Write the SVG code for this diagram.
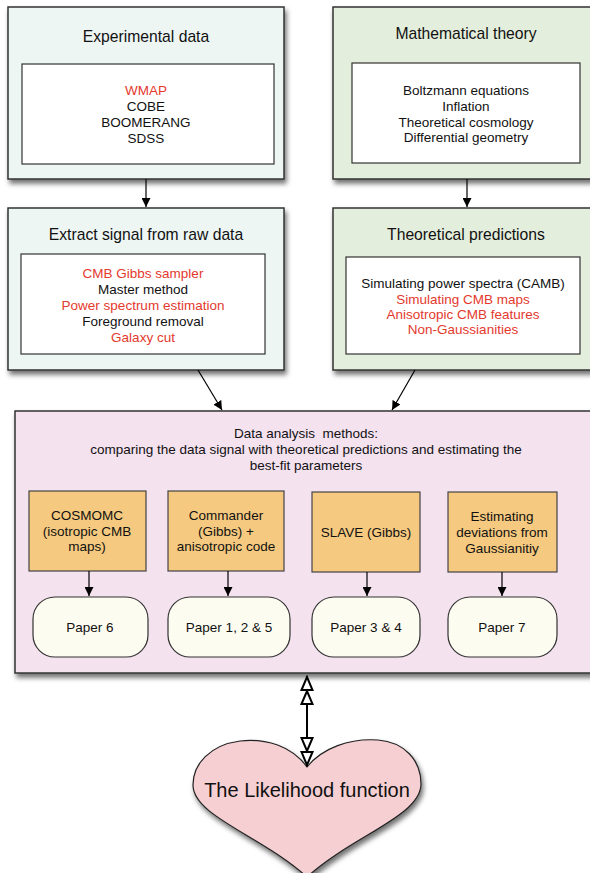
<svg xmlns="http://www.w3.org/2000/svg" width="590" height="873" viewBox="0 0 590 873">
<defs>
<filter id="sh" x="-10%" y="-10%" width="130%" height="130%">
<feDropShadow dx="2" dy="4" stdDeviation="2.5" flood-color="#000" flood-opacity="0.55"/>
</filter>
<marker id="ah" viewBox="0 0 10 10" refX="10" refY="5" markerWidth="9" markerHeight="9" markerUnits="userSpaceOnUse" orient="auto">
<path d="M0,0 L10,5 L0,10 Z" fill="#000"/>
</marker>
<marker id="dh" viewBox="0 0 30 14" refX="29" refY="7" markerWidth="30" markerHeight="14" markerUnits="userSpaceOnUse" orient="auto-start-reverse">
<path d="M1,1.5 L14,7 L1,12.5 Z M15,1.5 L28,7 L15,12.5 Z" fill="#fff" stroke="#000" stroke-width="2" stroke-linejoin="miter"/>
</marker>
</defs>
<style>
text{font-family:"Liberation Sans",Arial,sans-serif;fill:#111;text-anchor:middle}
.t{font-size:15.7px}
.b{font-size:13.5px}
.r{fill:#e4392d}
.box{stroke:#333;stroke-width:1.5}
.cy{fill:#eef6f4}
.gr{fill:#e4eedc}
.pk{fill:#f4e2ef}
.inner{fill:#fff;stroke:#333;stroke-width:1.2}
.or{fill:#f5c97f;stroke:#444;stroke-width:1.2}
.pp{fill:#fdfcf0;stroke:#333;stroke-width:1.2}
.c{stroke:#000;stroke-width:1.2;fill:none;marker-end:url(#ah)}
</style>

<g id="experimental">
<rect class="box cy" x="8" y="7" width="276" height="172" filter="url(#sh)"/>
<text class="t" x="146" y="42">Experimental data</text>
<rect class="inner" x="22" y="64" width="252" height="100"/>
<text class="b r" x="146" y="95">WMAP</text>
<text class="b" x="146" y="111">COBE</text>
<text class="b" x="146" y="127">BOOMERANG</text>
<text class="b" x="146" y="143">SDSS</text>
</g>

<g id="mathematical">
<rect class="box gr" x="333" y="7" width="266" height="172" filter="url(#sh)"/>
<text class="t" x="466" y="39">Mathematical theory</text>
<rect class="inner" x="352" y="63" width="228" height="100"/>
<text class="b" x="466" y="95">Boltzmann equations</text>
<text class="b" x="466" y="111">Inflation</text>
<text class="b" x="466" y="127">Theoretical cosmology</text>
<text class="b" x="466" y="142">Differential geometry</text>
</g>

<g id="extract">
<rect class="box cy" x="8" y="208" width="276" height="162" filter="url(#sh)"/>
<text class="t" x="146" y="240">Extract signal from raw data</text>
<rect class="inner" x="21" y="254" width="244" height="100"/>
<text class="b r" x="143" y="278">CMB Gibbs sampler</text>
<text class="b" x="143" y="294">Master method</text>
<text class="b r" x="143" y="310">Power spectrum estimation</text>
<text class="b" x="143" y="326">Foreground removal</text>
<text class="b r" x="143" y="342">Galaxy cut</text>
</g>

<g id="predictions">
<rect class="box gr" x="333" y="208" width="266" height="162" filter="url(#sh)"/>
<text class="t" x="466" y="240">Theoretical predictions</text>
<rect class="inner" x="346" y="257" width="234" height="97"/>
<text class="b" x="463" y="288">Simulating power spectra (CAMB)</text>
<text class="b r" x="463" y="304">Simulating CMB maps</text>
<text class="b r" x="463" y="319">Anisotropic CMB features</text>
<text class="b r" x="463" y="334">Non-Gaussianities</text>
</g>

<g id="analysis">
<rect class="box pk" x="15" y="411" width="584" height="262" filter="url(#sh)"/>
<text class="b" x="306" y="438" style="white-space:pre">Data analysis  methods:</text>
<text class="b" x="306" y="454">comparing the data signal with theoretical predictions and estimating the</text>
<text class="b" x="306" y="470">best-fit parameters</text>
</g>

<g id="cosmomc">
<rect class="or" x="29" y="491" width="117" height="80"/>
<text class="b" x="87" y="520">COSMOMC</text>
<text class="b" x="87" y="536">(isotropic CMB</text>
<text class="b" x="87" y="551">maps)</text>
</g>
<g id="commander">
<rect class="or" x="168" y="491" width="116" height="80"/>
<text class="b" x="226" y="520">Commander</text>
<text class="b" x="226" y="536">(Gibbs) +</text>
<text class="b" x="226" y="551">anisotropic code</text>
</g>
<g id="slave">
<rect class="or" x="312" y="492" width="108" height="80"/>
<text class="b" x="366" y="537">SLAVE (Gibbs)</text>
</g>
<g id="nongauss">
<rect class="or" x="448" y="492" width="109" height="80"/>
<text class="b" x="502" y="521">Estimating</text>
<text class="b" x="502" y="537">deviations from</text>
<text class="b" x="502" y="553">Gaussianitiy</text>
</g>

<g id="paper6">
<rect class="pp" x="33" y="597" width="115" height="60" rx="22" ry="22"/>
<text class="b" x="90" y="632">Paper 6</text>
</g>
<g id="paper125">
<rect class="pp" x="168" y="597" width="122" height="60" rx="22" ry="22"/>
<text class="b" x="229" y="632">Paper 1, 2 &amp; 5</text>
</g>
<g id="paper34">
<rect class="pp" x="312" y="597" width="108" height="60" rx="22" ry="22"/>
<text class="b" x="366" y="632">Paper 3 &amp; 4</text>
</g>
<g id="paper7">
<rect class="pp" x="448" y="597" width="109" height="60" rx="22" ry="22"/>
<text class="b" x="502" y="632">Paper 7</text>
</g>

<g id="likelihood">
<path d="M307,767 C292,746 266,738 240,741 C210,745 193,764 193,785 C193,816 262,836 307,877 C352,836 421,816 421,784 C421,760 404,742 378,740 C350,738 322,748 307,767 Z" fill="#f6cfd3" stroke="#222" stroke-width="1.2" filter="url(#sh)"/>
<text x="307" y="797" style="font-size:20px">The Likelihood function</text>
</g>

<g id="connectors">
<line class="c" x1="146" y1="179" x2="146" y2="207"/>
<line class="c" x1="467" y1="179" x2="467" y2="207"/>
<line class="c" x1="198" y1="370" x2="222" y2="410"/>
<line class="c" x1="415" y1="370" x2="392" y2="410"/>
<line class="c" x1="89" y1="571" x2="89" y2="596"/>
<line class="c" x1="228" y1="571" x2="228" y2="596"/>
<line class="c" x1="367" y1="572" x2="367" y2="596"/>
<line class="c" x1="502" y1="572" x2="502" y2="596"/>
<line x1="307" y1="676" x2="307" y2="766" stroke="#000" stroke-width="2" marker-start="url(#dh)" marker-end="url(#dh)"/>
</g>
</svg>
